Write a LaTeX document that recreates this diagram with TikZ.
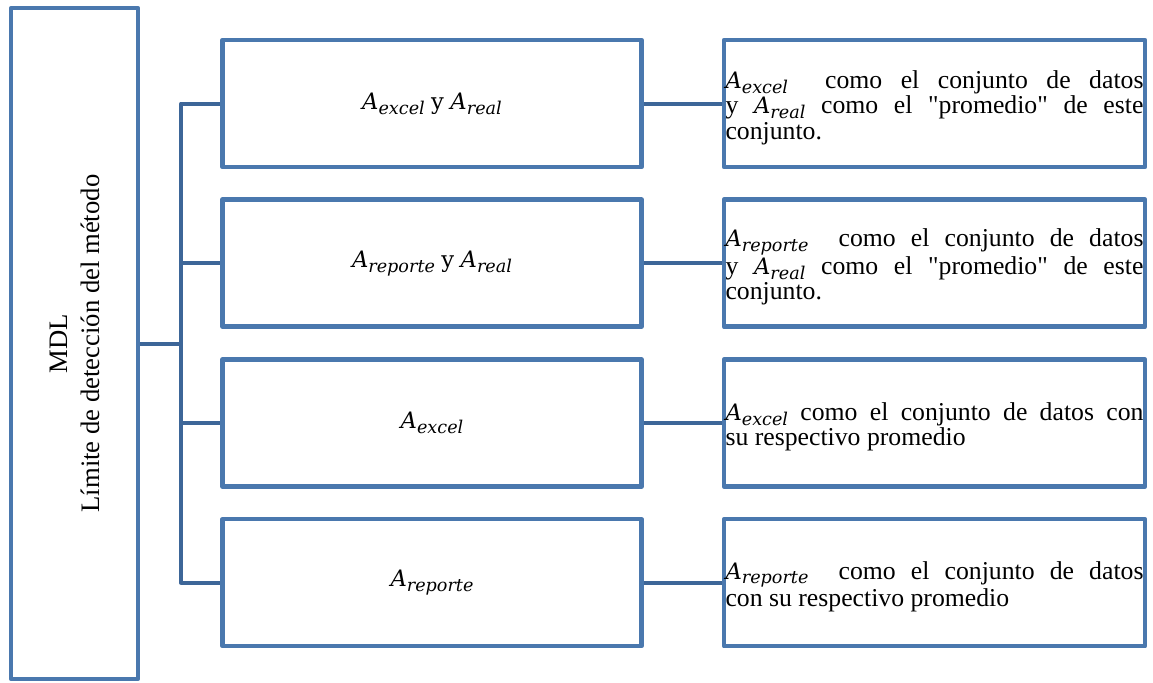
\documentclass[tikz,border=0pt]{standalone}
\usepackage{fontspec}
\setmainfont{Liberation Serif}
\newfontfamily\cambfont{DejaVu Serif}
\newcommand\Avar[1]{{\cambfont\itshape\fontsize{17}{17}\selectfont A\raisebox{-3.6pt}{\fontsize{13.2}{13.2}\selectfont #1}}}
\newcommand\ytext{{\cambfont\fontsize{17}{17}\selectfont y}}
\definecolor{boxblue}{RGB}{74,120,174}
\definecolor{linkblue}{RGB}{61,102,152}
\begin{document}
\begin{tikzpicture}[x=0.75pt,y=-0.75pt,
  box/.style={draw=boxblue,line width=3.4pt,line join=round,inner sep=0pt},
  leftbox/.style={box,minimum width=95.25pt,minimum height=503pt},
  midbox/.style={box,minimum width=314.25pt,minimum height=95.25pt,font=\fontsize{19.3}{23}\selectfont},
  sidebox/.style={box,minimum width=315.75pt,minimum height=95.25pt},
  sidetext/.style={inner sep=0pt,text width=313.5pt,align=justify,yshift=-3pt,
    font=\fontsize{19.3}{19}\selectfont},
  vtext/.style={rotate=90,align=center,font=\fontsize{20}{24}\selectfont},
  link/.style={draw=linkblue,line width=3pt,line join=round}]
\useasboundingbox (0,0) rectangle (1153,682);

\node[leftbox] (L) at (74.5,343.5) {};
\node[vtext] (Lt) at (L.center) {MDL\\Límite de detección del método};

\node[midbox] (m1) at (432,103.5) {\Avar{excel} \ytext{} \Avar{real}};
\node[midbox] (m2) at (432,263.2) {\Avar{reporte} \ytext{} \Avar{real}};
\node[midbox] (m3) at (432,423) {\Avar{excel}};
\node[midbox] (m4) at (432,582.7) {\Avar{reporte}};

\node[sidebox] (r1) at (934.5,103.5) {};
\node[sidebox] (r2) at (934.5,263.2) {};
\node[sidebox] (r3) at (934.5,423) {};
\node[sidebox] (r4) at (934.5,582.7) {};

\node[sidetext] (t1) at (r1.center) {\Avar{excel}\ \ como el conjunto de datos\linebreak y \Avar{real}\ como el \textquotedbl promedio\textquotedbl\ de este\linebreak conjunto.};
\node[sidetext] (t2) at (r2.center) {\Avar{reporte}\ \ como el conjunto de datos\linebreak y \Avar{real}\ como el \textquotedbl promedio\textquotedbl\ de este\linebreak conjunto.};
\node[sidetext] (t3) at (r3.center) {\Avar{excel} como el conjunto de datos con\linebreak su respectivo promedio};
\node[sidetext] (t4) at (r4.center) {\Avar{reporte}\ \ como el conjunto de datos\linebreak con su respectivo promedio};

\coordinate (bx) at (181,343.5);
\draw[link] (L.east) -- (bx);
\draw[link] (m1.west) -- (m1.west -| bx) -- (m4.west -| bx) -- (m4.west);
\draw[link] (m2.west -| bx) -- (m2.west);
\draw[link] (m3.west -| bx) -- (m3.west);

\draw[link] (m1.east) -- (r1.west);
\draw[link] (m2.east) -- (r2.west);
\draw[link] (m3.east) -- (r3.west);
\draw[link] (m4.east) -- (r4.west);
\end{tikzpicture}
\end{document}
